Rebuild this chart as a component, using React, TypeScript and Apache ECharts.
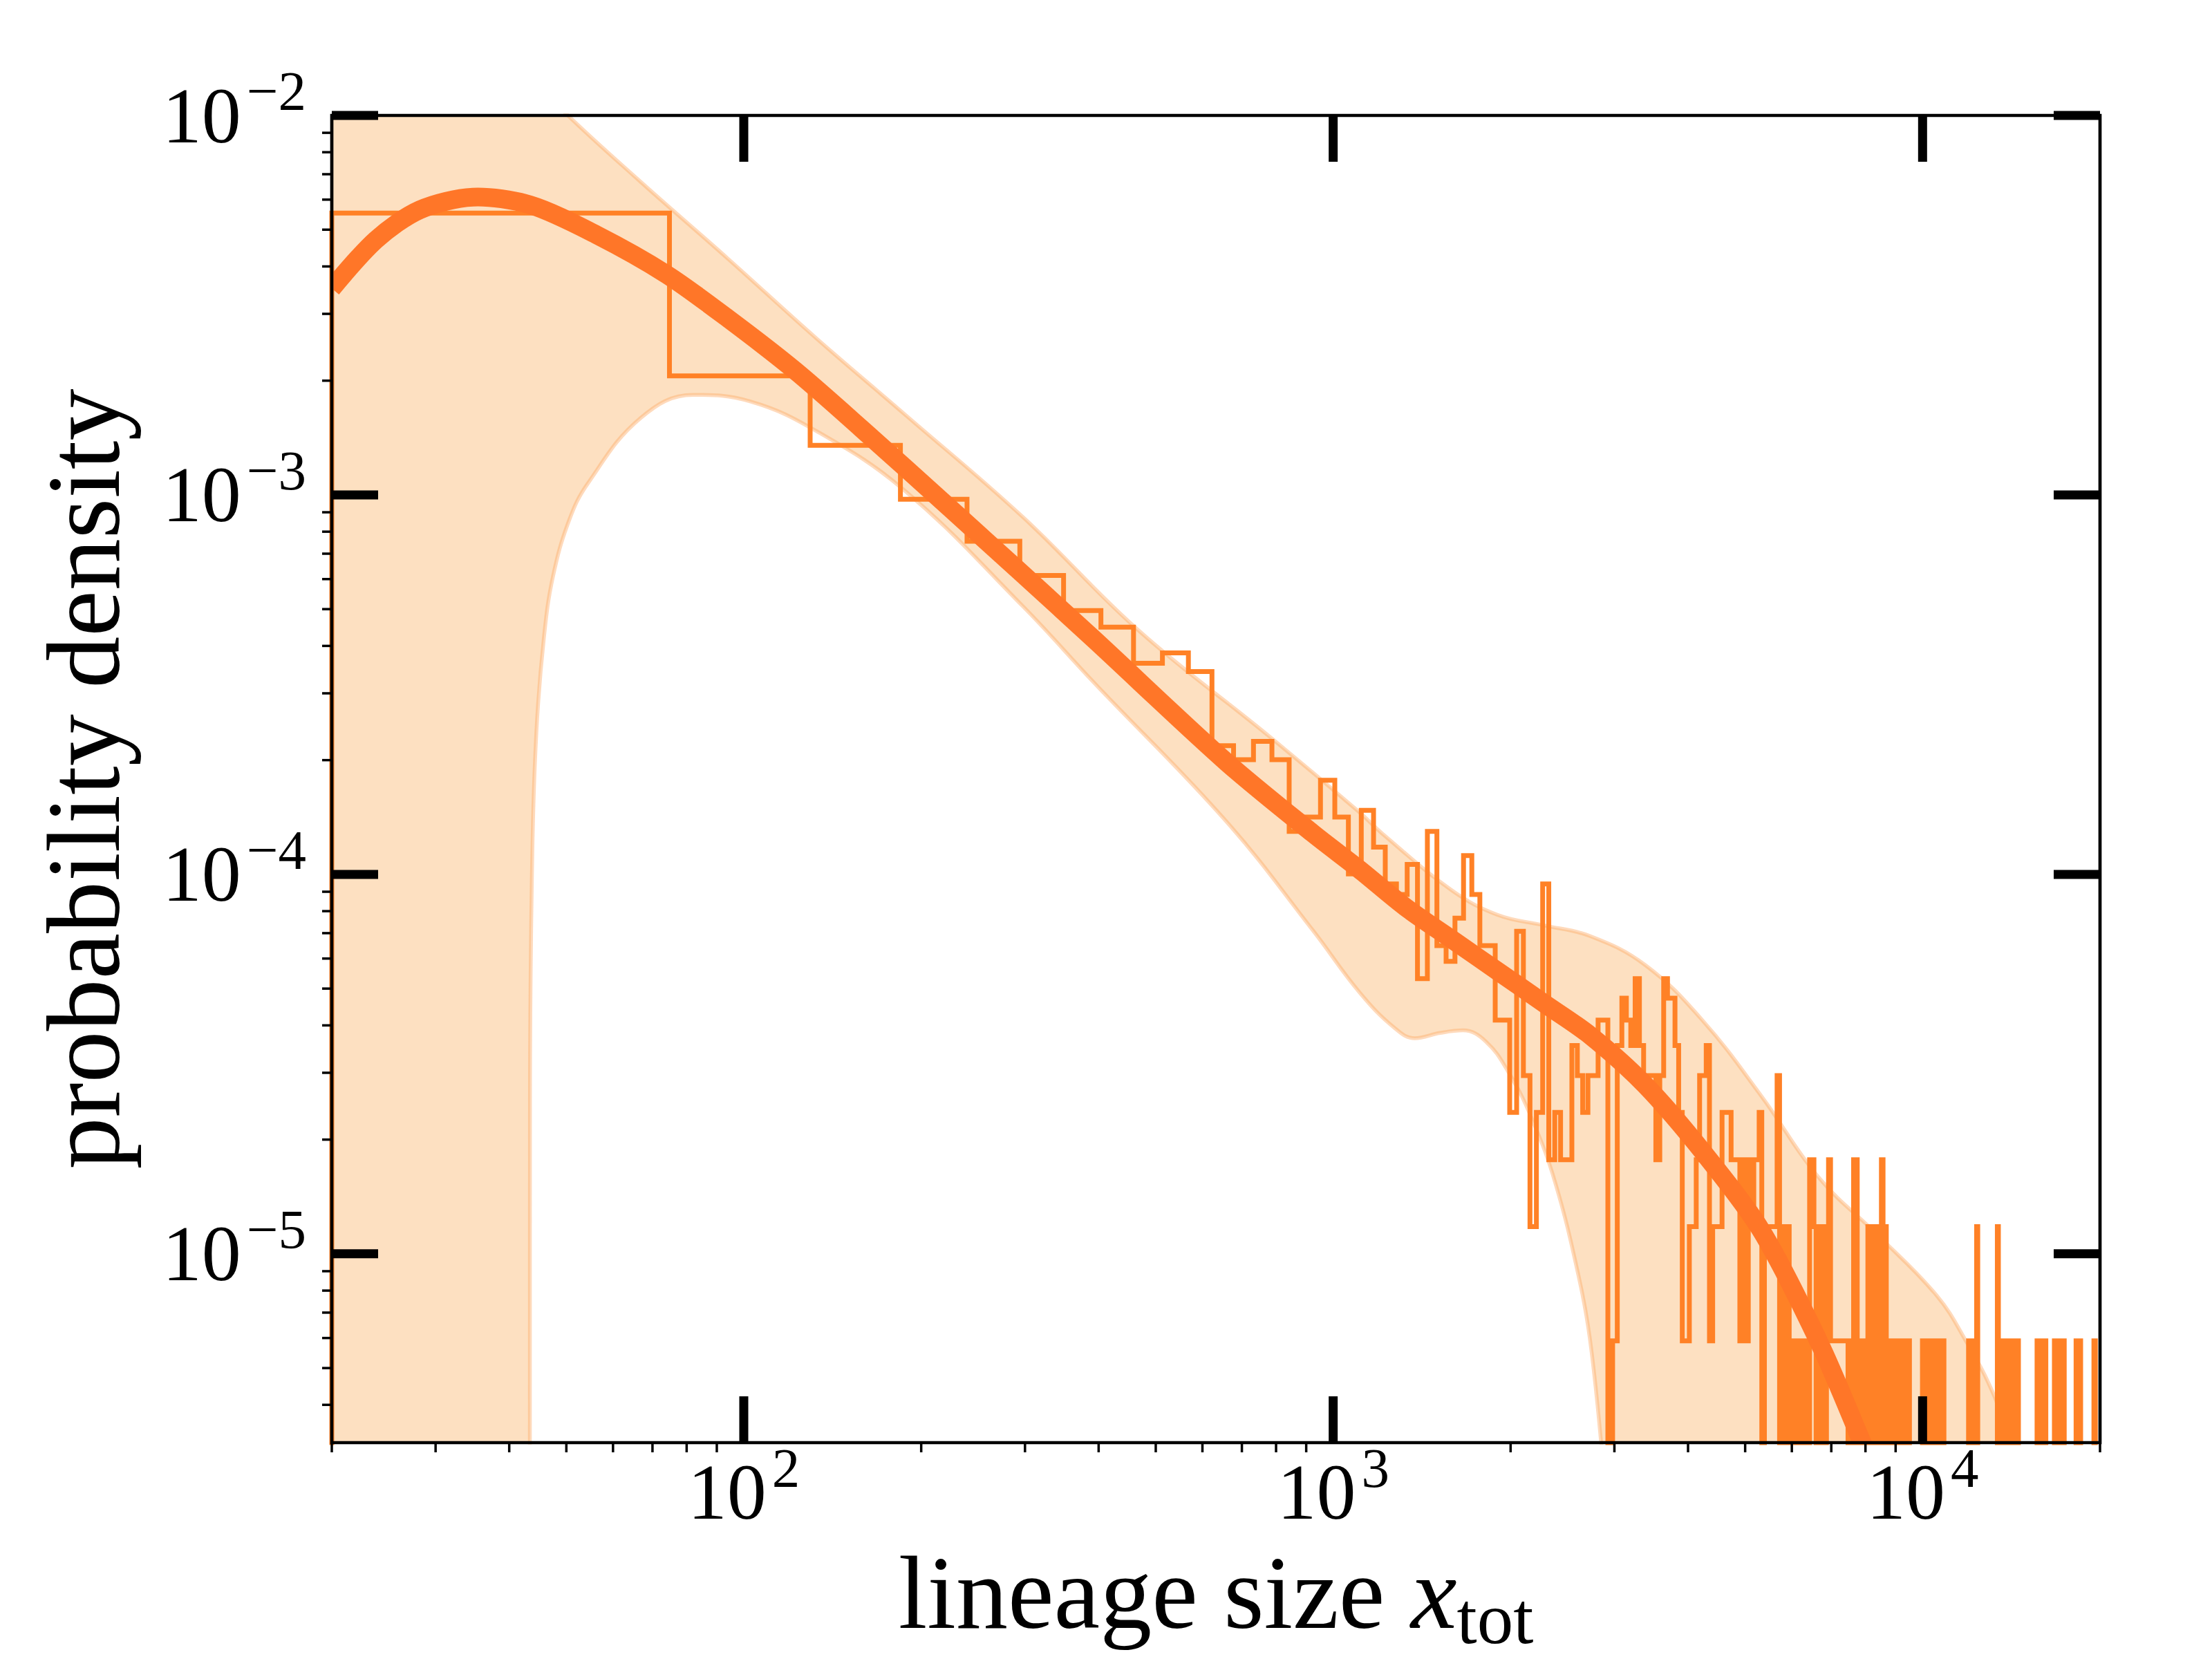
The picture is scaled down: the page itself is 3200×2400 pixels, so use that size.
import React, { useEffect, useRef } from "react";
import * as echarts from "echarts";

const FONT = "'Liberation Serif', 'DejaVu Serif', serif";

// axis ranges
const X_MIN = 20;
const X_MAX = 20000;
const Y_MIN = 3.18e-6;
const Y_MAX = 1e-2;

// ticks
const MAJOR_X_TICKS = [100, 1000, 10000];
const MINOR_X_TICKS = [20, 30, 40, 50, 60, 70, 80, 90, 200, 300, 400, 500, 600, 700, 800, 900, 2000, 3000, 4000, 5000, 6000, 7000, 8000, 9000, 20000];
const MAJOR_Y_TICKS = [1e-5, 1e-4, 1e-3, 1e-2];
const MINOR_Y_TICKS = [
  4e-6, 5e-6, 6e-6, 7e-6, 8e-6, 9e-6,
  2e-5, 3e-5, 4e-5, 5e-5, 6e-5, 7e-5, 8e-5, 9e-5,
  2e-4, 3e-4, 4e-4, 5e-4, 6e-4, 7e-4, 8e-4, 9e-4,
  2e-3, 3e-3, 4e-3, 5e-3, 6e-3, 7e-3, 8e-3, 9e-3,
];

// histogram (linear bins)
const BIN_START = 20;
const BIN_WIDTH = 54.8;
const DENSITY_PER_COUNT = 5.9e-6;
const BELOW_AXIS = 1e-9;
const HIST_COUNTS = [
  937, 349, 229, 165, 128, 104, 84, 76, 61, 65, 58, 37, 34, 38, 34, 22, 24, 30, 24, 17,
  25, 20, 16, 15, 18, 9, 22, 11, 10, 13, 19, 15, 11, 11, 7, 7, 4, 12, 5, 2,
  4, 16, 3, 4, 3, 3, 6, 5, 4, 5, 5, 7, 7, 0, 1, 6, 8, 7, 6, 9,
  6, 5, 5, 5, 3, 5, 9, 8, 8, 6, 4, 1, 1, 2, 2, 3, 5, 5, 6, 1,
  2, 2, 2, 4, 4, 4, 3, 3, 3, 1, 3, 1, 3, 2, 3, 3, 4, 0, 2, 2,
  2, 2, 2, 5, 0, 2, 0, 2, 0, 1, 0, 1, 0, 1, 0, 1, 0, 3, 3, 2,
  0, 2, 0, 2, 0, 1, 3, 1, 1, 1, 1, 1, 1, 1, 1, 1, 0, 1, 0, 3,
  3, 0, 1, 0, 1, 0, 1, 2, 0, 2, 0, 2, 0, 2, 0, 3, 0, 2, 0, 1,
  1, 0, 1, 0, 1, 1, 0, 1, 0, 1, 0, 1, 1, 0, 0, 0, 0, 0, 0, 0,
  0, 0, 1, 0, 1, 1, 0, 1, 0, 1, 0, 1, 1, 0, 1, 0, 1, 1, 0, 0,
  0, 0, 0, 0, 0, 0, 0, 0, 0, 0, 0, 0, 0, 0, 0, 0, 0, 0, 1, 0,
  1, 0, 1, 0, 1, 2, 0, 0, 0, 0, 0, 0, 0, 0, 0, 0, 0, 0, 0, 0,
  0, 0, 0, 0, 2, 0, 1, 0, 1, 1, 0, 1, 0, 1, 0, 1, 1, 0, 1, 0,
  1, 0, 1, 1, 1, 0, 0, 0, 0, 0, 0, 0, 0, 0, 0, 0, 0, 0, 0, 0,
  0, 0, 0, 0, 0, 1, 0, 1, 0, 1, 1, 0, 1, 0, 1, 0, 0, 0, 0, 0,
  0, 0, 0, 0, 0, 1, 0, 1, 1, 0, 1, 0, 1, 0, 1, 1, 1, 0, 0, 0,
  0, 0, 0, 0, 0, 0, 0, 0, 0, 0, 0, 0, 1, 0, 1, 1, 0, 1, 0, 0,
  0, 0, 0, 0, 0, 0, 0, 0, 0, 0, 0, 0, 0, 0, 0, 0, 1, 1, 0, 0,
  0, 0, 0, 0,
];

// fitted density curve
const FIT_X = [20, 23.8, 28.2, 34.7, 43.4, 56.2, 74, 94.2, 122, 158, 223, 294, 393, 658, 925, 1108, 1326, 1588, 1901, 2276, 2725, 3383, 4246, 5331, 6690, 7882, 8400];
const FIT_Y = [3.5e-3, 4.71e-3, 5.64e-3, 6.09e-3, 5.81e-3, 4.85e-3, 3.81e-3, 2.91e-3, 2.13e-3, 1.5e-3, 9.27e-4, 6.28e-4, 4.16e-4, 1.98e-4, 1.28e-4, 1.03e-4, 8.2e-5, 6.75e-5, 5.56e-5, 4.58e-5, 3.77e-5, 2.785e-5, 1.85e-5, 1.148e-5, 5.8e-6, 3.2e-6, 2.5e-6];

// confidence band
const UPPER_X = [20, 35, 50.3, 66.8, 94.2, 133, 187.6, 297.8, 467, 782, 1104, 1212, 1588, 1901, 2276, 2725, 3383, 4246, 5331, 6690, 8397, 10540, 11810, 13230, 14000, 15000];
const UPPER_Y = [4.0e-2, 1.75e-2, 1.0e-2, 6.69e-3, 4.18e-3, 2.58e-3, 1.63e-3, 8.73e-4, 4.4e-4, 2.3e-4, 1.465e-4, 1.28e-4, 9.09e-5, 7.82e-5, 7.34e-5, 6.88e-5, 5.77e-5, 4.1e-5, 2.6e-5, 1.578e-5, 1.12e-5, 7.8e-6, 5.94e-6, 4.22e-6, 3.18e-6, 2.2e-6];
const LOWER_X = [43.36, 43.38, 43.77, 44.49, 45.8, 47.46, 50.5, 54.33, 66.8, 82.1, 102.7, 133, 187.6, 297.8, 392.9, 658.4, 925, 1108, 1268, 1375, 1518, 1661, 1818, 1989, 2176, 2381, 2606, 2725, 2851, 2920];
const LOWER_Y = [2.0e-6, 2.53e-5, 1.13e-4, 2.39e-4, 4.2e-4, 6.1e-4, 8.54e-4, 1.07e-3, 1.594e-3, 1.835e-3, 1.762e-3, 1.471e-3, 1.026e-3, 5.08e-4, 3.2e-4, 1.38e-4, 7.1e-5, 4.89e-5, 3.95e-5, 3.7e-5, 3.82e-5, 3.88e-5, 3.62e-5, 2.99e-5, 2.26e-5, 1.54e-5, 8.8e-6, 6.0e-6, 3.14e-6, 2.0e-6];

const COLOR_FIT = "#ff7628";
const COLOR_HIST = "#ff8126";
const COLOR_BAND = "#fde0c1";
const COLOR_BAND_EDGE = "rgba(253,174,107,0.45)";

const MAJOR_LEN = 67;
const MAJOR_W = 13;
const MINOR_LEN = 14;
const MINOR_W = 3.5;
const FRAME_W = 4.7;

// tick kinds
const K_BOTTOM_MAJOR = 0;
const K_BOTTOM_MINOR = 1;
const K_TOP_MAJOR = 2;
const K_LEFT_MAJOR = 3;
const K_LEFT_MINOR = 4;
const K_RIGHT_MAJOR = 5;
const K_FRAME = 6;

function zip(xs: number[], ys: number[]) {
  return xs.map((x, i) => [x, ys[i]]);
}

function powLabel(v: number) {
  const e = Math.log10(v);
  const r = Math.round(e);
  if (Math.abs(e - r) > 1e-6) return "";
  const sup = r < 0 ? "\u2212" + -r : String(r);
  return `{b|10}{s|${sup}}`;
}

export default function App() {
  const ref = useRef<HTMLDivElement>(null);

  useEffect(() => {
    const chart = echarts.init(ref.current as HTMLDivElement, null, { renderer: "svg" });

    const histPoints: number[][] = [[BIN_START, BELOW_AXIS]];
    HIST_COUNTS.forEach((c, i) => {
      histPoints.push([BIN_START + i * BIN_WIDTH, c > 0 ? c * DENSITY_PER_COUNT : BELOW_AXIS]);
    });
    const lastEdge = BIN_START + HIST_COUNTS.length * BIN_WIDTH;
    const lastC = HIST_COUNTS[HIST_COUNTS.length - 1];
    histPoints.push([lastEdge, lastC > 0 ? lastC * DENSITY_PER_COUNT : BELOW_AXIS]);
    histPoints.push([lastEdge, BELOW_AXIS]);

    const tickData: number[][] = [];
    MAJOR_X_TICKS.forEach((v) => {
      tickData.push([v, Y_MIN, K_BOTTOM_MAJOR]);
      tickData.push([v, Y_MAX, K_TOP_MAJOR]);
    });
    MINOR_X_TICKS.forEach((v) => tickData.push([v, Y_MIN, K_BOTTOM_MINOR]));
    MAJOR_Y_TICKS.forEach((v) => {
      tickData.push([X_MIN, v, K_LEFT_MAJOR]);
      tickData.push([X_MAX, v, K_RIGHT_MAJOR]);
    });
    MINOR_Y_TICKS.forEach((v) => tickData.push([X_MIN, v, K_LEFT_MINOR]));
    tickData.push([X_MIN, Y_MIN, K_FRAME]);

    const tickRich = {
      b: { fontFamily: FONT, fontSize: 114, color: "#000" },
      s: { fontFamily: FONT, fontSize: 81, color: "#000", padding: [0, 0, 70, 8] },
    };

    const fitData = zip(FIT_X, FIT_Y);

    const bandLine = (data: number[][], extra: any) => ({
      type: "line",
      data,
      smooth: 0.4,
      showSymbol: false,
      symbol: "none",
      silent: true,
      ...extra,
    });

    const option: any = {
      animation: false,
      backgroundColor: "#ffffff",
      grid: { left: 480, top: 167, width: 2558, height: 1920, show: false, outerBoundsMode: "none" },
      xAxis: {
        type: "log",
        logBase: 10,
        min: X_MIN,
        max: X_MAX,
        axisLine: { show: false },
        axisTick: { show: false },
        splitLine: { show: false },
        minorTick: { show: false },
        axisLabel: {
          formatter: powLabel,
          margin: -4,
          fontFamily: FONT,
          fontSize: 114,
          color: "#000",
          rich: tickRich,
        },
        name: "{a|lineage size }{i|x}{t|tot}",
        nameLocation: "middle",
        nameGap: 127,
        nameMoveOverlap: false,
        nameTextStyle: {
          fontFamily: FONT,
          fontSize: 150,
          color: "#000",
          rich: {
            a: { fontFamily: FONT, fontSize: 150, color: "#000", lineHeight: 180 },
            i: { fontFamily: FONT, fontSize: 150, fontStyle: "italic", color: "#000", lineHeight: 180 },
            t: { fontFamily: FONT, fontSize: 105, color: "#000", padding: [74, 0, 0, 0] },
          },
        },
      },
      yAxis: {
        type: "log",
        logBase: 10,
        min: Y_MIN,
        max: Y_MAX,
        axisLine: { show: false },
        axisTick: { show: false },
        splitLine: { show: false },
        minorTick: { show: false },
        axisLabel: {
          formatter: powLabel,
          margin: 37,
          fontFamily: FONT,
          fontSize: 114,
          color: "#000",
          rich: tickRich,
        },
        name: "probability density",
        nameLocation: "middle",
        nameRotate: 90,
        nameGap: 284,
        nameMoveOverlap: false,
        nameTextStyle: { fontFamily: FONT, fontSize: 150, color: "#000", lineHeight: 150 },
      },
      series: [
        bandLine(zip(UPPER_X, UPPER_Y), {
          name: "band-fill",
          lineStyle: { width: 0, opacity: 0 },
          areaStyle: { color: COLOR_BAND, opacity: 1, origin: "start" },
          z: 1,
        }),
        bandLine(zip(LOWER_X, LOWER_Y), {
          name: "band-lower-clear",
          lineStyle: { width: 0, opacity: 0 },
          areaStyle: { color: "#ffffff", opacity: 1, origin: "start" },
          z: 1,
        }),
        bandLine(zip(UPPER_X, UPPER_Y), {
          name: "band-upper-edge",
          lineStyle: { width: 5.5, color: COLOR_BAND_EDGE },
          z: 2,
        }),
        bandLine(zip(LOWER_X, LOWER_Y), {
          name: "band-lower-edge",
          lineStyle: { width: 5.5, color: COLOR_BAND_EDGE },
          z: 2,
        }),
        {
          name: "histogram",
          type: "line",
          step: "end",
          data: histPoints,
          showSymbol: false,
          symbol: "none",
          lineStyle: { width: 7, color: COLOR_HIST, join: "miter" },
          z: 3,
          silent: true,
        },
        {
          name: "fit",
          type: "custom",
          clip: true,
          z: 4,
          silent: true,
          data: [fitData[0]],
          renderItem: (params: any, api: any) => {
            const pts = fitData.map((d) => api.coord(d));
            return {
              type: "polyline",
              shape: { points: pts, smooth: 0.3 },
              style: { stroke: COLOR_FIT, lineWidth: 27, fill: "none", lineJoin: "round" },
            };
          },
        },
        {
          name: "ticks",
          type: "custom",
          clip: false,
          z: 10,
          silent: true,
          data: tickData,
          renderItem: (params: any, api: any) => {
            const kind = api.value(2);
            const p = api.coord([api.value(0), api.value(1)]);
            if (kind === K_FRAME) {
              const q = api.coord([X_MAX, Y_MAX]);
              return {
                type: "rect",
                shape: { x: p[0], y: q[1], width: q[0] - p[0], height: p[1] - q[1] },
                style: { fill: "none", stroke: "#000", lineWidth: FRAME_W },
              };
            }
            let x2 = p[0];
            let y2 = p[1];
            let w = MAJOR_W;
            if (kind === K_BOTTOM_MAJOR) y2 = p[1] - MAJOR_LEN;
            else if (kind === K_TOP_MAJOR) y2 = p[1] + MAJOR_LEN;
            else if (kind === K_LEFT_MAJOR) x2 = p[0] + MAJOR_LEN;
            else if (kind === K_RIGHT_MAJOR) x2 = p[0] - MAJOR_LEN;
            else if (kind === K_BOTTOM_MINOR) {
              y2 = p[1] + MINOR_LEN;
              w = MINOR_W;
            } else if (kind === K_LEFT_MINOR) {
              x2 = p[0] - MINOR_LEN;
              w = MINOR_W;
            }
            return {
              type: "line",
              shape: { x1: p[0], y1: p[1], x2, y2 },
              style: { stroke: "#000", lineWidth: w },
            };
          },
        },
      ],
    };

    chart.setOption(option);
    return () => chart.dispose();
  }, []);

  return (
    <div
      ref={ref}
      style={{ position: "absolute", left: 0, top: 0, width: 3200, height: 2400, background: "#ffffff" }}
    />
  );
}
